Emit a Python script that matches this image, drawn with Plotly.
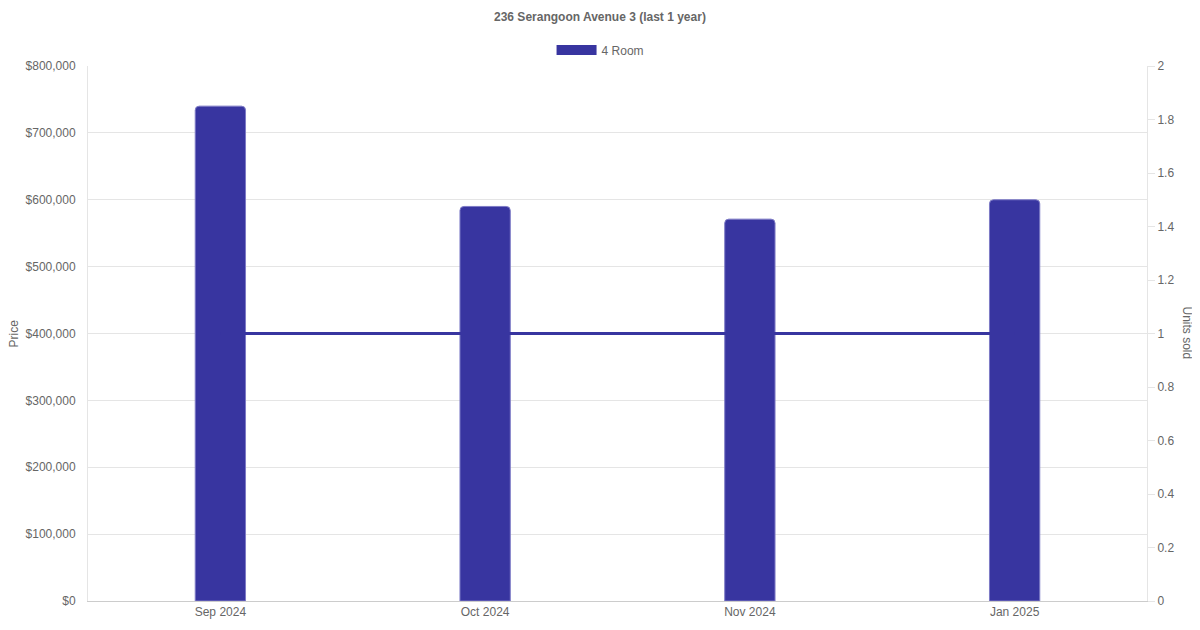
import plotly.graph_objects as go

months = ["Sep 2024", "Oct 2024", "Nov 2024", "Jan 2025"]
prices = [740000, 590000, 571000, 600000]
units_sold = [1, 1, 1, 1]
price_ticks = [0, 100000, 200000, 300000, 400000, 500000, 600000, 700000, 800000]
unit_ticks = [0, 0.2, 0.4, 0.6, 0.8, 1, 1.2, 1.4, 1.6, 1.8, 2]

bar_color = "#3835a0"
txt = "#666666"
grid = "#e5e5e5"

fig = go.Figure()

# prices as bars on the left axis
fig.add_trace(go.Bar(
    x=months, y=prices, name="4 Room", showlegend=False,
    marker=dict(color=bar_color, line=dict(color="#7e7bc6", width=1), cornerradius=4),
    width=0.19,
))

# units sold as a line on the right axis
fig.add_trace(go.Scatter(
    x=months, y=units_sold, yaxis="y2", mode="lines",
    line=dict(color=bar_color, width=3), showlegend=False,
))

# wide legend swatch like the original chart
fig.add_trace(go.Scatter(
    x=[None], y=[None], mode="lines", name="4 Room",
    line=dict(color=bar_color, width=12),
))

fig.update_layout(
    width=1200, height=630,
    paper_bgcolor="white", plot_bgcolor="white",
    margin=dict(l=80, r=61, t=58, b=37),
    font=dict(family="Liberation Sans, Arial, sans-serif", size=12, color=txt),
    title=dict(text="<b>236 Serangoon Avenue 3 (last 1 year)</b>", x=0.4933, xanchor="center",
               y=0.9857, yanchor="middle", font=dict(size=12, color=txt)),
    legend=dict(orientation="h", x=0.484, xanchor="center", y=1.03, yanchor="middle",
                font=dict(size=12, color=txt), itemwidth=40),
    xaxis=dict(showgrid=False, showline=True, linecolor="#cccccc", ticks="",
               tickfont=dict(size=12, color=txt)),
    yaxis=dict(range=[0, 800000], tickvals=price_ticks, tickformat="$,",
               showgrid=True, gridcolor=grid, showline=True, linecolor=grid,
               zeroline=False, ticks="", ticklabelstandoff=9),
    yaxis2=dict(range=[0, 2], tickvals=unit_ticks, overlaying="y", side="right",
                showgrid=False, showline=True, linecolor=grid, zeroline=False,
                ticks="outside", ticklen=7, tickcolor=grid),
    annotations=[
        dict(text="Price", xref="paper", yref="paper", x=-0.0708, y=0.5,
             xanchor="center", yanchor="middle",
             textangle=-90, showarrow=False, font=dict(size=12, color=txt)),
        dict(text="Units sold", xref="paper", yref="paper", x=1.0387, y=0.5,
             xanchor="center", yanchor="middle",
             textangle=90, showarrow=False, font=dict(size=12, color=txt)),
    ],
)

fig.write_html("out.html")
